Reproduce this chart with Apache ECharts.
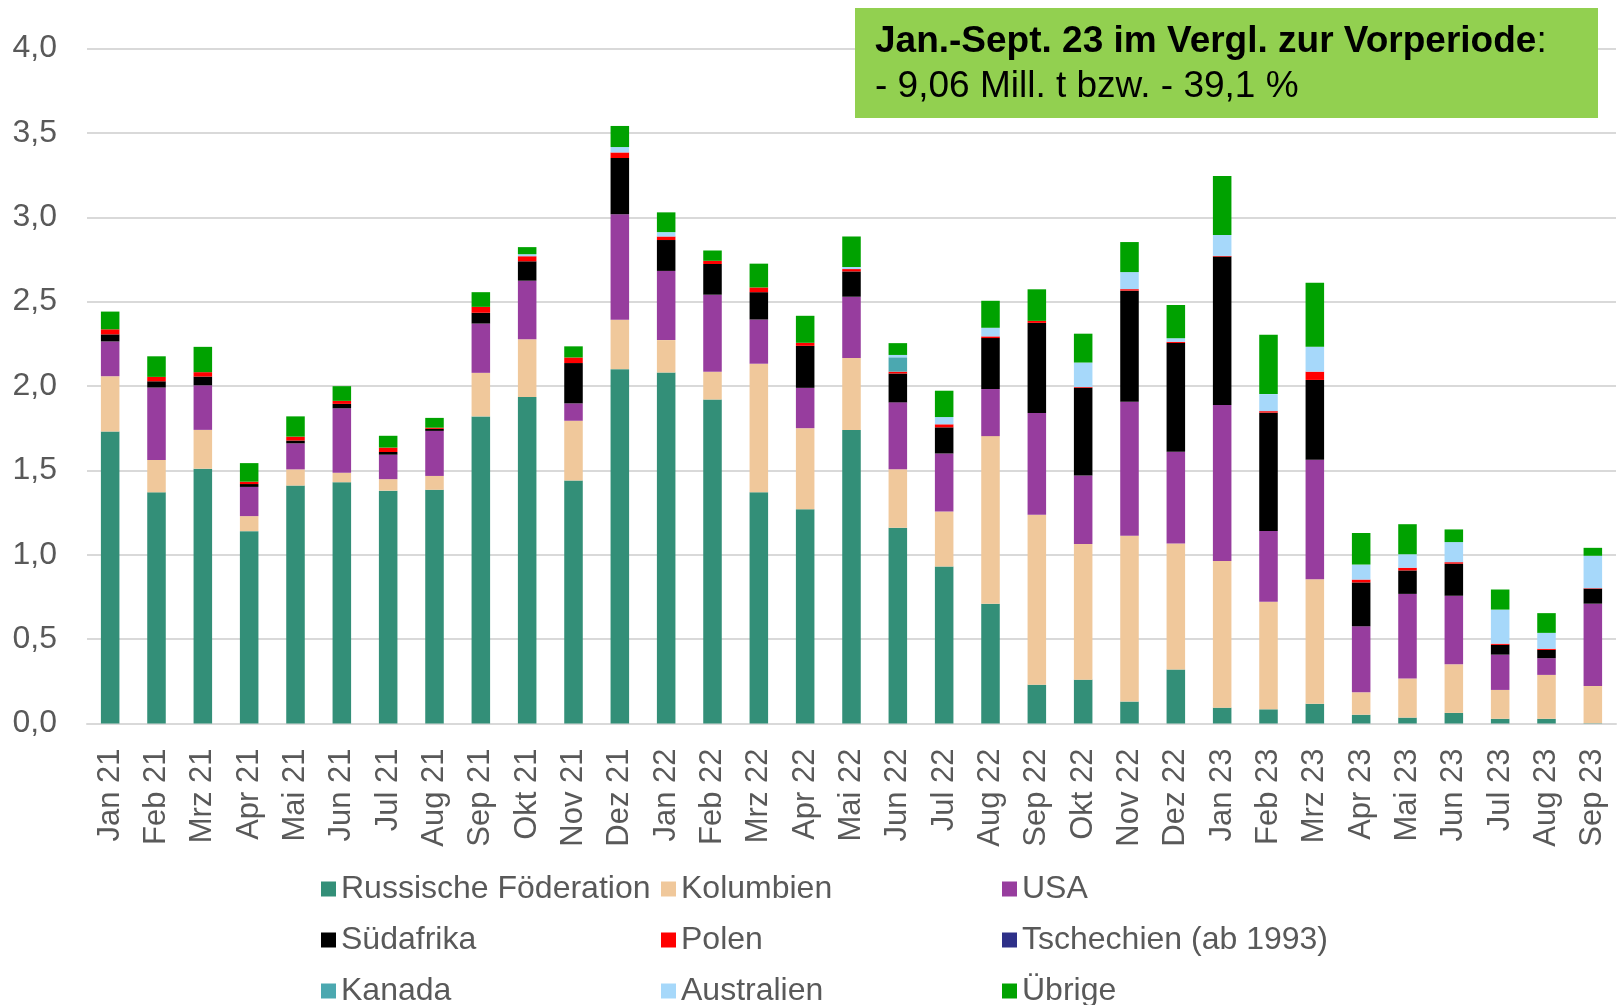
<!DOCTYPE html>
<html>
<head>
<meta charset="utf-8">
<script src="https://cdn.jsdelivr.net/npm/echarts@6/dist/echarts.min.js"></script>
<style>
html,body{margin:0;padding:0;background:#fff;}
#chart{width:1624px;height:1005px;}
</style>
</head>
<body>
<div id="chart"></div>
<script>
const months = ['Jan 21','Feb 21','Mrz 21','Apr 21','Mai 21','Jun 21','Jul 21','Aug 21','Sep 21','Okt 21','Nov 21','Dez 21',
  'Jan 22','Feb 22','Mrz 22','Apr 22','Mai 22','Jun 22','Jul 22','Aug 22','Sep 22','Okt 22','Nov 22','Dez 22',
  'Jan 23','Feb 23','Mrz 23','Apr 23','Mai 23','Jun 23','Jul 23','Aug 23','Sep 23'];

const russland = [1.73,1.37,1.51,1.14,1.41,1.43,1.38,1.385,1.82,1.935,1.44,2.10,
  2.08,1.92,1.37,1.27,1.74,1.16,0.93,0.71,0.23,0.26,0.13,0.32,
  0.094,0.084,0.117,0.052,0.035,0.063,0.028,0.028,0.002];
const kolumbien = [0.328,0.192,0.23,0.089,0.096,0.056,0.068,0.082,0.258,0.342,0.354,0.293,
  0.192,0.164,0.762,0.48,0.426,0.347,0.326,0.993,1.007,0.804,0.982,0.747,
  0.869,0.638,0.738,0.133,0.232,0.288,0.171,0.26,0.22];
const usa = [0.206,0.429,0.264,0.173,0.154,0.382,0.145,0.267,0.292,0.347,0.103,0.625,
  0.41,0.457,0.262,0.239,0.363,0.396,0.344,0.279,0.603,0.405,0.794,0.544,
  0.925,0.419,0.708,0.391,0.501,0.406,0.209,0.099,0.488];
const suedafrika = [0.042,0.037,0.052,0.017,0.017,0.026,0.016,0.012,0.064,0.115,0.239,0.333,
  0.183,0.182,0.162,0.249,0.15,0.171,0.155,0.302,0.534,0.521,0.659,0.644,
  0.879,0.701,0.473,0.26,0.139,0.19,0.058,0.049,0.089];
const polen = [0.03,0.026,0.026,0.014,0.023,0.018,0.026,0.007,0.035,0.03,0.033,0.033,
  0.021,0.019,0.028,0.018,0.014,0.011,0.018,0.01,0.012,0.004,0.009,0.007,
  0.004,0.009,0.049,0.017,0.016,0.009,0.007,0.007,0.003];
const tschechien = [0,0,0,0,0,0,0,0,0,0,0,0,
  0,0,0,0,0,0,0,0,0,0,0,0,
  0,0,0,0,0,0,0,0,0];
const kanada = [0,0,0,0,0,0,0,0,0,0,0,0,
  0,0,0,0,0,0.085,0,0,0,0,0,0,
  0,0,0,0,0,0,0,0,0];
const australien = [0,0,0,0,0,0,0,0,0,0.012,0,0.032,
  0.026,0,0,0,0.012,0.014,0.043,0.051,0,0.145,0.101,0.021,
  0.124,0.101,0.148,0.089,0.08,0.119,0.202,0.094,0.192];
const uebrige = [0.105,0.122,0.15,0.11,0.12,0.087,0.07,0.058,0.087,0.042,0.066,0.125,
  0.117,0.061,0.141,0.16,0.181,0.07,0.156,0.16,0.187,0.171,0.178,0.197,
  0.349,0.351,0.379,0.187,0.178,0.075,0.119,0.117,0.047];

const yTicks = [0,0.5,1,1.5,2,2.5,3,3.5,4];

const seriesDefs = [
  {name:'Russische Föderation', data:russland, color:'#338F78'},
  {name:'Kolumbien', data:kolumbien, color:'#F0C89B'},
  {name:'USA', data:usa, color:'#973D9E'},
  {name:'Südafrika', data:suedafrika, color:'#000000'},
  {name:'Polen', data:polen, color:'#FF0000'},
  {name:'Tschechien (ab 1993)', data:tschechien, color:'#2E3088'},
  {name:'Kanada', data:kanada, color:'#4BA8B0'},
  {name:'Australien', data:australien, color:'#A6D8FA'},
  {name:'Übrige', data:uebrige, color:'#00A200'}
];

const FONT = "'Liberation Sans', Arial, sans-serif";
const chart = echarts.init(document.getElementById('chart'), null, {renderer:'canvas'});

function legendCol(names, left){
  return {
    orient:'vertical', left:left, top:873, height:140, padding:0,
    data:names, icon:'rect', itemWidth:15, itemHeight:15, itemGap:19,
    selectedMode:false,
    textStyle:{fontFamily:FONT, fontSize:32, color:'#595959', lineHeight:32}
  };
}

chart.setOption({
  animation:false,
  backgroundColor:'#ffffff',
  grid:{left:87, right:8, top:48.5, bottom:281.5, containLabel:false},
  legend:[
    legendCol(['Russische Föderation','Südafrika','Kanada'], 321),
    legendCol(['Kolumbien','Polen','Australien'], 661),
    legendCol(['USA','Tschechien (ab 1993)','Übrige'], 1002)
  ],
  xAxis:{
    type:'category', data:months,
    axisTick:{show:false},
    axisLine:{lineStyle:{color:'#D9D9D9', width:2}},
    axisLabel:{rotate:90, fontFamily:FONT, fontSize:31, color:'#595959', margin:25, interval:0}
  },
  yAxis:{
    type:'value', min:yTicks[0], max:yTicks[yTicks.length-1], interval:0.5,
    axisLine:{show:false}, axisTick:{show:false},
    splitLine:{lineStyle:{color:'#D9D9D9', width:2}},
    axisLabel:{fontFamily:FONT, fontSize:32, color:'#595959', margin:30,
      formatter:v=>v.toFixed(1).replace('.', ',')}
  },
  series: seriesDefs.map(s=>({
    name:s.name, type:'bar', stack:'total', data:s.data, barWidth:'40%',
    itemStyle:{color:s.color},
    emphasis:{disabled:true}
  })),
  graphic:[
    {type:'rect', left:855, top:8, shape:{width:743, height:110}, style:{fill:'#92D050'}, z:100},
    {type:'text', left:875, top:23, z:101, style:{
      text:'{b|Jan.-Sept. 23 im Vergl. zur Vorperiode}{n|:}',
      rich:{b:{fontFamily:FONT, fontSize:37, fontWeight:'bold', fill:'#000'}, n:{fontFamily:FONT, fontSize:37, fill:'#000'}}
    }},
    {type:'text', left:875, top:68, z:101, style:{
      text:'- 9,06 Mill. t bzw. - 39,1 %', fontFamily:FONT, fontSize:37, fill:'#000'
    }}
  ]
});
</script>
</body>
</html>
